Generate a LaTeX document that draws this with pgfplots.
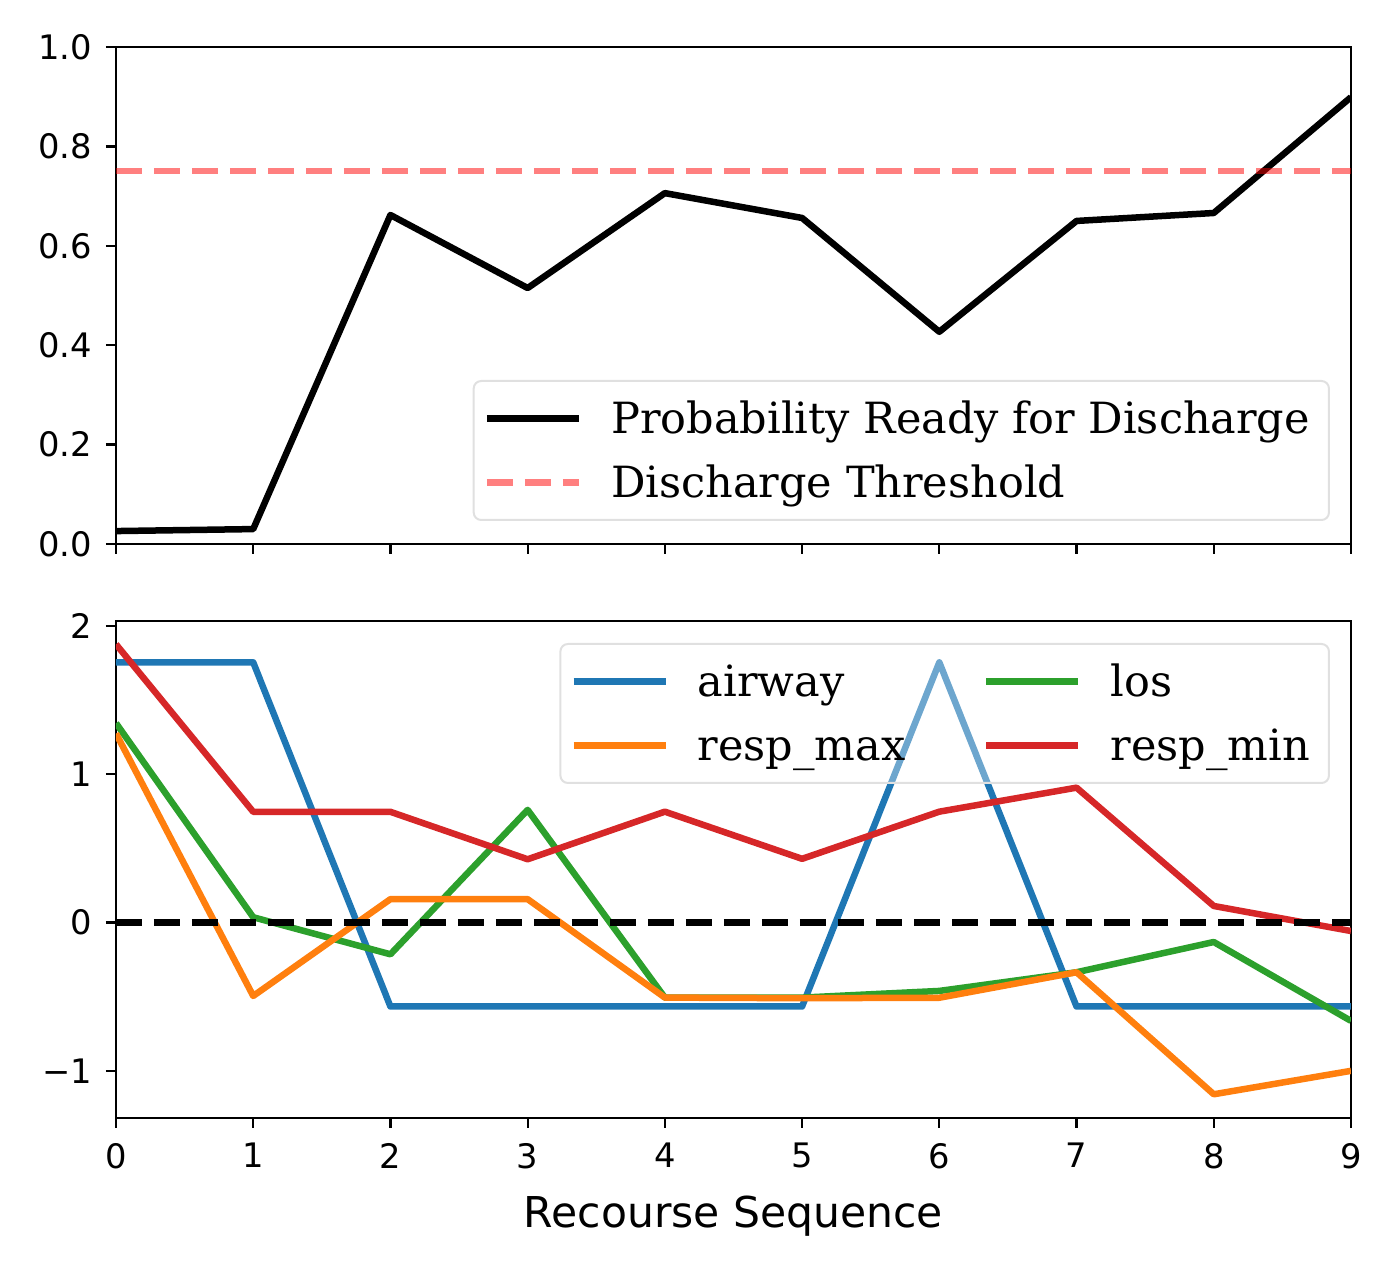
\documentclass[border=0pt]{standalone}
\usepackage{pgfplots}
\pgfplotsset{compat=1.18}
\usepackage{fontspec}
\setmainfont{DejaVu Sans}
\newfontfamily\legfont{DejaVu Serif}
\definecolor{tabblue}{HTML}{1F77B4}
\definecolor{taborange}{HTML}{FF7F0E}
\definecolor{tabgreen}{HTML}{2CA02C}
\definecolor{tabred}{HTML}{D62728}
\pgfplotsset{
  myaxis/.style={
    scale only axis, width=494pt, height=198.8pt, xmin=0, xmax=9,
    axis line style={line width=0.9pt},
    every tick/.style={line width=0.9pt, black},
    major tick length=4pt, tick align=outside, tick pos=left,
    xtick={0,1,2,3,4,5,6,7,8,9},
    ticklabel style={font=\fontsize{13.5}{16}\selectfont},
    yticklabel style={xshift=-2pt},
    xticklabel style={yshift=-2.5pt},
    legend cell align=left,
    legend image code/.code={\draw[##1] (0pt,0pt) -- (36.8pt,0pt);},
    legend style={font=\legfont\fontsize{17.2}{21}\selectfont,
      draw=black!12, line width=0.8pt, fill=white, fill opacity=0.35,
      draw opacity=1, text opacity=1, rounded corners=3pt,
      inner xsep=4pt, inner ysep=2.2pt,
      nodes={inner sep=0pt, text height=18.9pt, text depth=6.7pt},
      row sep=0pt,
      /tikz/every odd column/.append style={column sep=11.6pt}},
  },
  ser/.style={line width=2.6pt, line join=round},
}
\begin{document}
\begin{tikzpicture}
\useasboundingbox (-46.4pt,-59.2pt) rectangle (511.6pt,447.2pt);
\begin{axis}[myaxis, at={(0pt,229.6pt)}, anchor=south west,
  ymin=0, ymax=1, ytick={0,0.2,0.4,0.6,0.8,1.0},
  yticklabels={0.0,0.2,0.4,0.6,0.8,1.0}, xticklabels={},
  legend style={at={(1,0)}, anchor=south east, xshift=-8.4pt, yshift=9.2pt}]
\addplot[ser, black] coordinates {(0,0.026)(1,0.03)(2,0.662)(3,0.515)(4,0.706)(5,0.656)(6,0.427)(7,0.65)(8,0.666)(9,0.899)};
\addlegendentry{Probability Ready for Discharge\hspace*{3.6pt}}
\addplot[ser, red, opacity=0.5, dash pattern=on 10.4pt off 4.8pt] coordinates {(0,0.75)(9,0.75)};
\addlegendentry{Discharge Threshold}
\end{axis}
\begin{axis}[myaxis, at={(0pt,0pt)}, anchor=south west,
  ymin=-1.318, ymax=2.034, ytick={-1,0,1,2}, yticklabels={−1,0,1,2},
  xticklabels={0,1,2,3,4,5,6,7,8,9},
  xlabel={Recourse Sequence},
  xlabel style={font=\fontsize{17}{20}\selectfont, at={(axis description cs:0.5,0)}, anchor=north, inner sep=0pt, yshift=-30.8pt},
  legend columns=2,
  legend style={at={(1,1)}, anchor=north east, xshift=-8.4pt, yshift=-8.8pt,
    /tikz/every even column/.append style={column sep=31pt}}]
\addplot[ser, tabblue] coordinates {(0,1.755)(1,1.755)(2,-0.566)(3,-0.566)(4,-0.566)(5,-0.566)(6,1.755)(7,-0.566)(8,-0.566)(9,-0.566)};
\addlegendentry{airway}
\addplot[ser, tabgreen] coordinates {(0,1.345)(1,0.036)(2,-0.214)(3,0.76)(4,-0.506)(5,-0.506)(6,-0.461)(7,-0.335)(8,-0.131)(9,-0.663)};
\addlegendentry{los}
\addplot[ser, taborange] coordinates {(0,1.275)(1,-0.495)(2,0.158)(3,0.158)(4,-0.506)(5,-0.51)(6,-0.507)(7,-0.335)(8,-1.158)(9,-1.0)};
\addlegendentry{resp\_max}
\addplot[ser, tabred] coordinates {(0,1.877)(1,0.747)(2,0.747)(3,0.427)(4,0.748)(5,0.43)(6,0.748)(7,0.91)(8,0.112)(9,-0.057)};
\addlegendentry{resp\_min\hspace*{3.6pt}}
\addplot[ser, black, dash pattern=on 10.4pt off 4.8pt, forget plot] coordinates {(0,0)(9,0)};
\end{axis}
\end{tikzpicture}
\end{document}
